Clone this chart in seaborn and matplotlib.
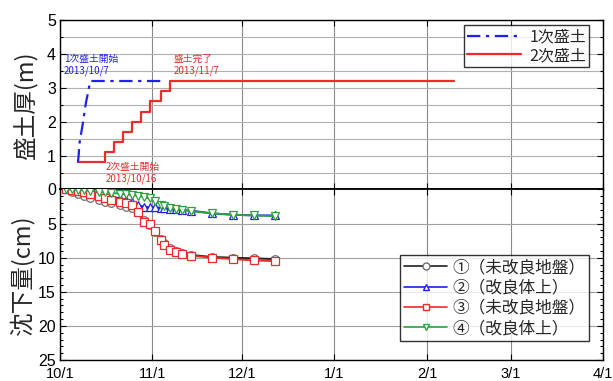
import matplotlib
matplotlib.use("Agg")
import matplotlib.pyplot as plt
import matplotlib.dates as mdates
import matplotlib.transforms as mtransforms
from matplotlib.ticker import MultipleLocator, FuncFormatter
from matplotlib.lines import Line2D
import pandas as pd
import seaborn as sns

sns.set_theme(style="white")
plt.rcParams["font.family"] = ["Noto Sans CJK JP", "DejaVu Sans"]

# ---- embankment thickness (m) ----
fill1_dates = ["2013-10-07 00:00", "2013-10-07 06:00", "2013-10-07 12:00", "2013-10-08 18:00",
               "2013-10-09 16:00", "2013-10-10 12:00", "2013-10-11 00:00", "2013-10-11 06:00",
               "2013-11-05 12:00"]
fill1_thick = [0.8, 1.0, 1.35, 2.0, 2.55, 2.9, 3.15, 3.2, 3.2]

fill2_dates = ["2013-10-07", "2013-10-16", "2013-10-19", "2013-10-22", "2013-10-25",
               "2013-10-28", "2013-10-31", "2013-11-04", "2013-11-07", "2014-02-10"]
fill2_thick = [0.8, 1.1, 1.4, 1.7, 2.0, 2.3, 2.6, 2.9, 3.2, 3.2]

# ---- settlement (cm) ----
meas_dates = ["2013-10-03", "2013-10-05", "2013-10-07", "2013-10-09", "2013-10-11",
              "2013-10-14", "2013-10-16", "2013-10-18", "2013-10-21", "2013-10-23",
              "2013-10-25", "2013-10-27", "2013-10-29", "2013-10-31", "2013-11-02",
              "2013-11-04", "2013-11-05", "2013-11-07", "2013-11-09", "2013-11-11",
              "2013-11-14", "2013-11-21", "2013-11-28", "2013-12-05", "2013-12-12"]
settle_1 = [0, 0.3, 0.6, 0.9, 1.2, 1.5, 1.8, 2.0, 2.3, 2.5, 2.7, 3.3, 4.4, 5.2, 6.2,
            7.3, 7.9, 8.6, 9.0, 9.3, 9.6, 9.9, 10.0, 10.1, 10.2]
settle_2 = [0, 0.1, 0.2, 0.3, 0.4, 0.6, 0.8, 1.0, 1.3, 1.6, 1.9, 2.3, 2.5, 2.6, 2.6,
            2.7, 2.75, 2.8, 2.9, 3.0, 3.1, 3.5, 3.7, 3.8, 3.8]
settle_3 = [0, 0.1, 0.2, 0.4, 0.6, 0.9, 1.2, 1.5, 1.8, 2.0, 2.3, 3.3, 4.7, 5.1, 6.1,
            7.4, 8.2, 8.8, 9.2, 9.4, 9.7, 10.0, 10.2, 10.4, 10.5]
settle_4 = [0, 0.0, 0.1, 0.1, 0.2, 0.3, 0.4, 0.5, 0.6, 0.7, 0.8, 0.9, 1.1, 1.3, 1.7,
            2.2, 2.4, 2.7, 2.9, 3.0, 3.2, 3.5, 3.7, 3.8, 3.9]

fill_labels = ["1次盛土", "2次盛土"]
settle_labels = ["①（未改良地盤）", "②（改良体上）", "③（未改良地盤）", "④（改良体上）"]
month_ticks = ["2013-10-01", "2013-11-01", "2013-12-01", "2014-01-01",
               "2014-02-01", "2014-03-01", "2014-04-01"]

BLUE = "#2020ee"
RED = "#ee2a2a"
GREEN = "#30a040"
BLACK = "#202020"
DASH = [6, 2.5, 1.5, 2.5]

fig = plt.figure(figsize=(6.13, 3.81), dpi=100)
L, R = 60 / 613, 603 / 613
ax1 = fig.add_axes([L, 1 - 189.5 / 381, R - L, (189.5 - 20) / 381])
ax2 = fig.add_axes([L, 1 - 360 / 381, R - L, (360 - 189.5) / 381])

# top panel: fill thickness
f1 = pd.DataFrame({"date": pd.to_datetime(fill1_dates), "thick": fill1_thick})
f2 = pd.DataFrame({"date": pd.to_datetime(fill2_dates), "thick": fill2_thick})
sns.lineplot(data=f2, x="date", y="thick", ax=ax1, color=RED, lw=1.6,
             drawstyle="steps-post", estimator=None, sort=False, zorder=3)
sns.lineplot(data=f1, x="date", y="thick", ax=ax1, color=BLUE, lw=1.6,
             estimator=None, sort=False, zorder=4, dashes=False)
ax1.lines[-1].set_dashes(DASH)

# bottom panel: settlement
md = pd.to_datetime(meas_dates)
series = [(settle_1, BLACK, "o", 5.5), (settle_2, BLUE, "^", 6),
          (settle_3, RED, "s", 6), (settle_4, GREEN, "v", 6)]
draw_order = [1, 3, 0, 2]
for i in draw_order:
    vals, col, mk, ms = series[i]
    df = pd.DataFrame({"date": md, "s": vals})
    edge = "#707070" if i == 0 else col
    sns.lineplot(data=df, x="date", y="s", ax=ax2, color=col, lw=1.4,
                 marker=mk, markersize=ms, markerfacecolor="white",
                 markeredgecolor=edge, markeredgewidth=0.9,
                 estimator=None, sort=False, zorder=3 + i)

xmin, xmax = pd.Timestamp("2013-10-01"), pd.Timestamp("2014-04-01")
ticks = mdates.date2num(pd.to_datetime(month_ticks))
fmt = FuncFormatter(lambda v, p: f"{mdates.num2date(v).month}/{mdates.num2date(v).day}")

for ax in (ax1, ax2):
    ax.set_xlim(xmin, xmax)
    ax.set_xticks(ticks)
    ax.xaxis.set_major_formatter(fmt)
    ax.tick_params(direction="in", which="both", top=True, right=True,
                   left=True, bottom=True, labelsize=11.5, length=4, width=0.8,
                   colors="black", pad=3)
    ax.tick_params(which="minor", length=2.5)
    ax.grid(True, axis="x", color="#8a8a8a", lw=0.8)
    for sp in ax.spines.values():
        sp.set_color("black")
        sp.set_linewidth(1.0)
    ax.set_xlabel("")
    ax.set_facecolor("white")

ax1.set_ylim(0, 5)
ax1.yaxis.set_major_locator(MultipleLocator(1))
ax1.yaxis.set_minor_locator(MultipleLocator(0.5))
ax1.grid(True, axis="y", which="both", color="#b0b0b0", lw=0.8)
ax1.set_yticks([1, 2, 3, 4, 5])
ax1.tick_params(axis="x", labelbottom=False)
ax1.set_ylabel("盛土厚(m)", fontsize=17, labelpad=6)

ax2.set_ylim(25, 0)
ax2.yaxis.set_major_locator(MultipleLocator(5))
ax2.yaxis.set_minor_locator(MultipleLocator(1))
ax2.grid(True, axis="y", which="major", color="#a0a0a0", lw=0.8)
ax2.tick_params(axis="x", pad=5, labelsize=10.5)
ax2.set_ylabel("沈下量(cm)", fontsize=17, labelpad=3)
ax2.spines["top"].set_linewidth(1.2)
ax1.spines["bottom"].set_linewidth(1.2)

# tick numbers in a compact sans face
fig.canvas.draw()
for ax in (ax1, ax2):
    for t in ax.get_xticklabels() + ax.get_yticklabels():
        t.set_fontfamily("Liberation Sans")
# lift the lowest settlement label slightly off the date row
bottom_label = ax2.get_yticklabels()[-1]
bottom_label.set_transform(bottom_label.get_transform()
                           + mtransforms.ScaledTranslation(0, 3 / 100, fig.dpi_scale_trans))

# annotations on the fill panel
ann = dict(fontsize=7, linespacing=1.2, va="top", ha="left")
ax1.text(pd.Timestamp("2013-10-02 08:00"), 4.0, "1次盛土開始\n2013/10/7", color=BLUE, **ann)
ax1.text(pd.Timestamp("2013-11-08 00:00"), 4.0, "盛土完了\n2013/11/7", color=RED, **ann)
ax1.text(pd.Timestamp("2013-10-16 10:00"), 0.8, "2次盛土開始\n2013/10/16", color=RED, **ann)

# legends
h1 = [Line2D([], [], color=BLUE, lw=1.6, dashes=DASH),
      Line2D([], [], color=RED, lw=1.6)]
leg1 = ax1.legend(h1, fill_labels, loc="upper right", bbox_to_anchor=(0.975, 0.97),
                  fontsize=11.5, frameon=True, fancybox=False, edgecolor="black",
                  borderpad=0.2, handlelength=3.4, handletextpad=0.5,
                  labelspacing=0.1, borderaxespad=0)
leg1.get_frame().set_linewidth(1.0)

h2 = []
for vals, col, mk, ms in series:
    edge = "#707070" if col == BLACK else col
    h2.append(Line2D([], [], color=col, lw=1.2, marker=mk, markersize=5,
                     markerfacecolor="white", markeredgecolor=edge))
leg2 = ax2.legend(h2, settle_labels, loc="lower right", bbox_to_anchor=(0.975, 0.11),
                  fontsize=12, frameon=True, fancybox=False, edgecolor="black",
                  borderpad=0.25, handlelength=2.6, handletextpad=0.3,
                  labelspacing=0.2, borderaxespad=0)
leg2.get_frame().set_linewidth(1.0)

fig.savefig("out.png", dpi=100)
